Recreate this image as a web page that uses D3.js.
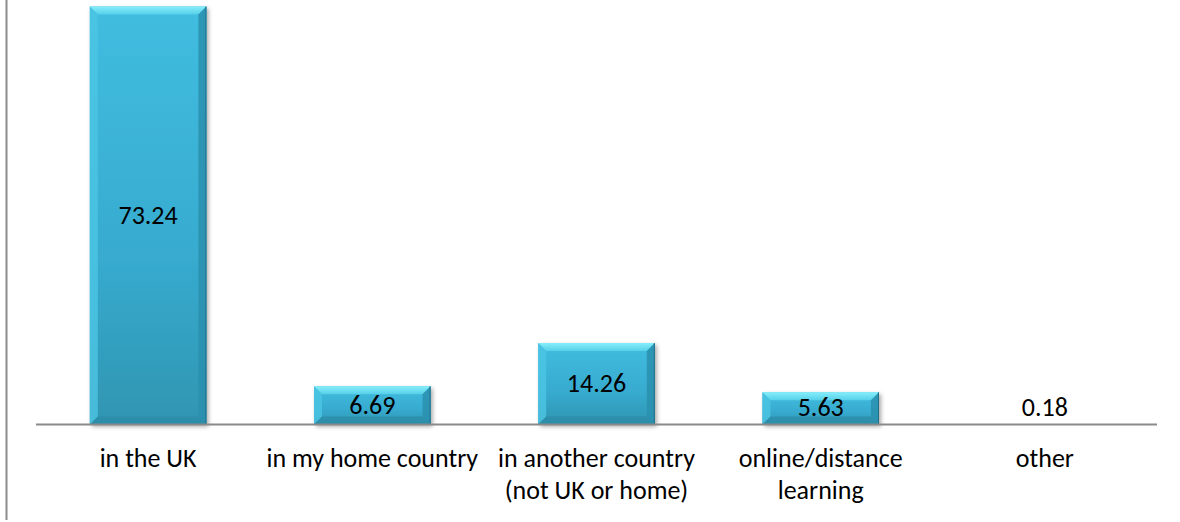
<!DOCTYPE html>
<html>
<head>
<meta charset="utf-8">
<script src="https://cdn.jsdelivr.net/npm/d3@7"></script>
<style>
  html, body { margin: 0; padding: 0; background: #fff; }
  svg { display: block; }
  text { font-family: Carlito, Calibri, Lato, sans-serif; fill: #000; }
</style>
</head>
<body>
<svg id="chart" width="1180" height="522"></svg>
<script>
// Where respondents study
const categories = [
  ["in the UK"],
  ["in my home country"],
  ["in another country", "(not UK or home)"],
  ["online/distance", "learning"],
  ["other"]
];
const values = [73.24, 6.69, 14.26, 5.63, 0.18];

const W = 1180, H = 522;
const baseY = 424.5;
const svg = d3.select("#chart");

const x = d3.scaleBand()
  .domain(d3.range(categories.length))
  .range([36, 1157])
  .paddingInner(0.48)
  .paddingOuter(0.24);

const y = d3.scaleLinear().domain([0, 80]).range([baseY, baseY - 80 * 5.707]);

const defs = svg.append("defs");

const face = defs.append("linearGradient").attr("id", "face")
  .attr("x1", 0).attr("y1", 0).attr("x2", 0).attr("y2", 1);
face.append("stop").attr("offset", "0%").attr("stop-color", "#40bde0");
face.append("stop").attr("offset", "60%").attr("stop-color", "#37abcf");
face.append("stop").attr("offset", "100%").attr("stop-color", "#2f95b1");

const topBevel = defs.append("linearGradient").attr("id", "topBevel")
  .attr("x1", 0).attr("y1", 0).attr("x2", 0).attr("y2", 1);
topBevel.append("stop").attr("offset", "0%").attr("stop-color", "#86eefb");
topBevel.append("stop").attr("offset", "100%").attr("stop-color", "#55cfe8");

const shadow = defs.append("filter").attr("id", "shadow")
  .attr("x", "-10%").attr("y", "-10%").attr("width", "130%").attr("height", "130%");
shadow.append("feDropShadow").attr("dx", 2).attr("dy", 2)
  .attr("stdDeviation", 2).attr("flood-color", "#000").attr("flood-opacity", 0.35);

// outer frame edge on the left
svg.append("line")
  .attr("x1", 6.5).attr("x2", 6.5).attr("y1", 0).attr("y2", 520)
  .attr("stroke", "#8c8c8c").attr("stroke-width", 2);

const bars = svg.append("g").selectAll("g").data(values).join("g");

bars.each(function (v, i) {
  const g = d3.select(this);
  const x0 = x(i), w = x.bandwidth();
  const y0 = y(v), h = baseY - y0;
  if (h < 1.5) return;
  const b = Math.min(8, h / 2.5);

  g.append("rect")
    .attr("x", x0).attr("y", y0).attr("width", w).attr("height", h)
    .attr("fill", "url(#face)").attr("filter", "url(#shadow)");

  // top bevel
  g.append("path")
    .attr("d", `M${x0},${y0} L${x0 + w},${y0} L${x0 + w - b},${y0 + b} L${x0 + b},${y0 + b} Z`)
    .attr("fill", "url(#topBevel)");
  // left bevel
  g.append("path")
    .attr("d", `M${x0},${y0} L${x0 + b},${y0 + b} L${x0 + b},${baseY - b} L${x0},${baseY} Z`)
    .attr("fill", "#4cc6e4").attr("opacity", 0.8);
  // right bevel
  g.append("path")
    .attr("d", `M${x0 + w},${y0} L${x0 + w},${baseY} L${x0 + w - b},${baseY - b} L${x0 + w - b},${y0 + b} Z`)
    .attr("fill", "#2a8fae").attr("opacity", 0.85);
  // bottom bevel
  g.append("path")
    .attr("d", `M${x0},${baseY} L${x0 + w},${baseY} L${x0 + w - b},${baseY - b} L${x0 + b},${baseY - b} Z`)
    .attr("fill", "#2b8aa6").attr("opacity", 0.7);
  // crisp dark right edge
  g.append("line")
    .attr("x1", x0 + w - 0.5).attr("x2", x0 + w - 0.5).attr("y1", y0).attr("y2", baseY)
    .attr("stroke", "#1f6f88").attr("stroke-width", 1);
});

// baseline
svg.append("line")
  .attr("x1", 36).attr("x2", 1157).attr("y1", baseY).attr("y2", baseY)
  .attr("stroke", "#8a8a8a").attr("stroke-width", 2);

// value labels, centred in the bar (kept clear of the baseline for short bars)
svg.append("g").selectAll("text").data(values).join("text")
  .attr("x", (d, i) => x(i) + x.bandwidth() / 2)
  .attr("y", d => Math.min((y(d) + baseY) / 2, baseY - 17) + 8.5)
  .attr("text-anchor", "middle")
  .attr("font-size", 26)
  .text(d => d.toFixed(2));

// category labels
const cat = svg.append("g").selectAll("text").data(categories).join("text")
  .attr("x", (d, i) => x(i) + x.bandwidth() / 2)
  .attr("y", 467)
  .attr("text-anchor", "middle")
  .attr("font-size", 26);
cat.selectAll("tspan").data(d => d).join("tspan")
  .attr("x", function () { return d3.select(this.parentNode).attr("x"); })
  .attr("dy", (d, j) => j === 0 ? 0 : 32)
  .text(d => d);
</script>
</body>
</html>
